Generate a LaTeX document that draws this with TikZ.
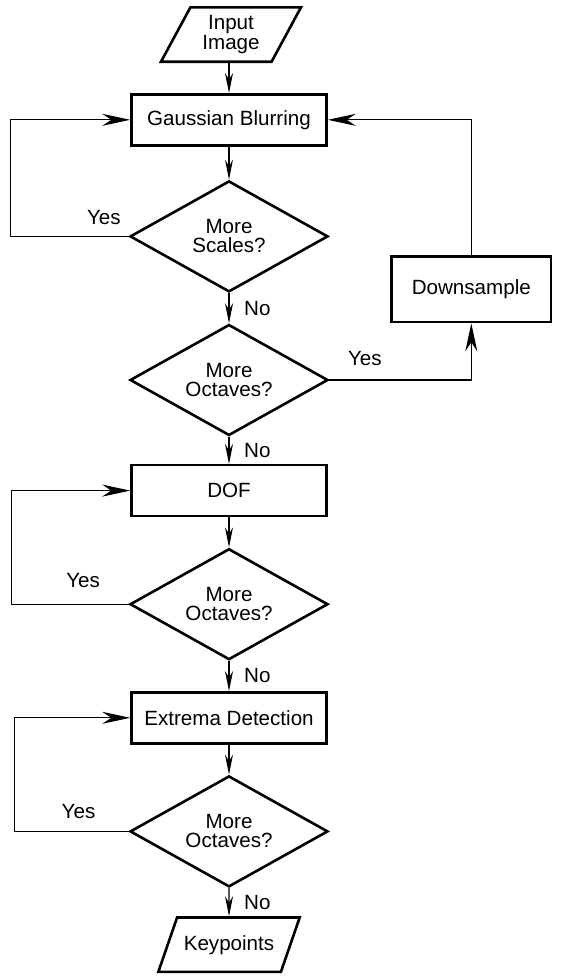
\documentclass[tikz,border=0pt]{standalone}
\usepackage{fontspec}
\setmainfont{Liberation Sans}
\usetikzlibrary{arrows.meta, positioning, shapes.geometric}

\begin{document}
\begin{tikzpicture}[
    node distance=15pt and 30pt,
    every node/.style={font=\fontsize{10.3}{9.6}\selectfont},
    block/.style={rectangle, draw, line width=1.3pt, minimum width=97.5pt,
                  minimum height=25.5pt, align=center},
    decision/.style={diamond, aspect=1.8, draw, line width=1.3pt, minimum width=99pt,
                     minimum height=55.5pt, inner sep=0pt, align=center},
    io/.style={trapezium, trapezium left angle=60, trapezium right angle=120,
               trapezium stretches body=true, draw, line width=1.3pt,
               minimum width=70pt, minimum height=27.2pt, align=center},
    arrow/.style={-{Stealth[length=10pt, width=4pt]}, line width=0.55pt},
    back/.style={-{Stealth[length=14pt, width=6pt]}, line width=0.55pt}
  ]
    \useasboundingbox (0,0) rectangle (281.5pt,-488pt);

    \node[io] (input) at (115.5pt,-17.25pt) {Input\\Image};
    \node[block, below=of input, xshift=-1pt] (gauss) {Gaussian Blurring};
    \node[decision, below=16.5pt of gauss] (scales) {More\\Scales?};
    \node[decision, below=of scales] (oct1) {More\\Octaves?};
    \node[block, minimum width=79.7pt, minimum height=32.7pt,
          right=30.5pt of scales, yshift=-26.5pt] (down) {Downsample};
    \node[block, below=13.5pt of oct1] (dof) {DOF};
    \node[decision, below=of dof] (oct2) {More\\Octaves?};
    \node[block, below=of oct2] (extrema) {Extrema Detection};
    \node[decision, below=of extrema] (oct3) {More\\Octaves?};
    \node[io, below=14pt of oct3] (keypts) {Keypoints};

    % scale loop
    \draw[arrow] (input.south -| gauss.north) -- (gauss);
    \draw[arrow] (gauss) -- (scales);
    \draw[back] (scales.west) -- node[above, pos=0.21, yshift=2pt] {Yes}
      ++(-59pt,0) |- (gauss.west);
    \draw[arrow] (scales) -- node[right, xshift=4pt] {No} (oct1);

    % octave loop
    \draw[back] (oct1.east) -| node[above, pos=0.125, yshift=3.5pt] {Yes} (down.south);
    \draw[back] (down.north) |- (gauss.east);
    \draw[arrow] (oct1) -- node[right, xshift=4pt] {No} (dof);

    \draw[arrow] (dof) -- (oct2);
    \draw[back] (oct2.west) -- node[above, pos=0.39, yshift=4.5pt] {Yes}
      ++(-58.5pt,0) |- (dof.west);
    \draw[arrow] (oct2) -- node[right, xshift=4pt] {No} (extrema);

    \draw[arrow] (extrema) -- (oct3);
    \draw[back] (oct3.west) -- node[above, pos=0.44, yshift=2.5pt] {Yes}
      ++(-57pt,0) |- (extrema.west);
    \draw[arrow] (oct3) -- node[right, xshift=4pt] {No} (keypts);
\end{tikzpicture}
\end{document}
